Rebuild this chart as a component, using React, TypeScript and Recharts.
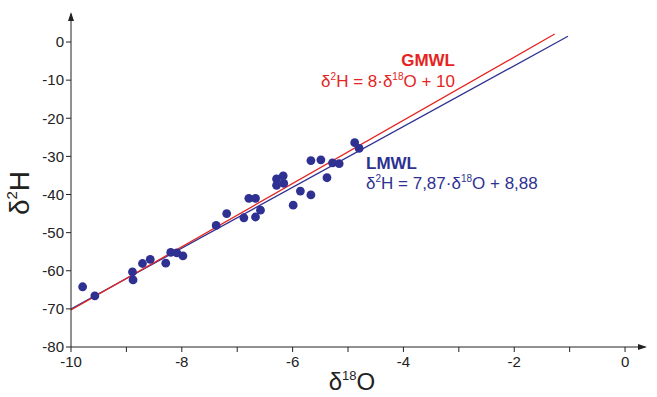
import React from "react"
import { ComposedChart, Line, ReferenceDot, Scatter, XAxis, YAxis } from "recharts"

// δ18O / δ2H sample pairs
const d18O = [
    -9.79, -9.57, -8.89, -8.88, -8.71, -8.57, -8.29, -8.2, -8.09, -7.98,
    -7.38, -7.19, -6.88, -6.79, -6.67, -6.67, -6.58, -6.29, -6.17, -6.29,
    -6.16, -5.99, -5.86, -5.67, -5.67, -5.49, -5.38, -5.28, -5.16, -4.88, -4.8,
]
const d2H = [
    -64.2, -66.6, -60.3, -62.4, -58.1, -57.0, -58.0, -55.2, -55.3, -56.1,
    -48.1, -45.0, -46.1, -41.0, -41.0, -45.9, -44.1, -35.9, -35.1, -37.6,
    -37.1, -42.8, -39.1, -40.1, -31.1, -30.9, -35.6, -31.7, -31.9, -26.4, -27.9,
]

// meteoric water lines (end points)
const gmwlX = [-10, -1.27]
const gmwlY = [-70.3, 2.1]
const lmwlX = [-10, -1.03]
const lmwlY = [-70.0, 1.5]

const xTicks = [-10, -9, -8, -7, -6, -5, -4, -3, -2, -1, 0]
const yTicks = [-80, -70, -60, -50, -40, -30, -20, -10, 0]

const samples = d18O.map((x, i) => ({ x, y: d2H[i] }))
const gmwl = gmwlX.map((x, i) => ({ x, y: gmwlY[i] }))
const lmwl = lmwlX.map((x, i) => ({ x, y: lmwlY[i] }))

const FONT = "'Liberation Sans', Arial, sans-serif"
const RED = "#e52421"
const NAVY = "#2e3192"
const AXIS = "#222222"

const X_MAX = 0.36
const Y_MAX = 7.35

const ArrowUp = ({ cx, cy }: any) => (
    <polygon points={`${cx},${cy - 2} ${cx - 3},${cy + 7} ${cx + 3},${cy + 7}`} fill={AXIS} />
)
const ArrowRight = ({ cx, cy }: any) => (
    <polygon points={`${cx + 2},${cy} ${cx - 7},${cy - 3} ${cx - 7},${cy + 3}`} fill={AXIS} />
)

const Dot = ({ cx, cy }: any) => <circle cx={cx} cy={cy} r={4.4} fill={NAVY} />

export default function App() {
    return (
        <div style={{ position: "absolute", left: 0, top: 0, width: 657, height: 397, background: "#fff", fontFamily: FONT }}>
            <ComposedChart
                width={657}
                height={397}
                margin={{ top: 14, right: 12, bottom: 20, left: 0 }}
            >
                <XAxis
                    type="number"
                    dataKey="x"
                    domain={[-10, X_MAX]}
                    ticks={xTicks}
                    allowDataOverflow
                    height={30}
                    tickSize={5}
                    tickMargin={4}
                    stroke={AXIS}
                    tick={{ fill: AXIS, fontSize: 15, fontFamily: FONT }}
                    tickFormatter={(v) => (v % 2 === 0 ? `${v}` : "")}
                />
                <YAxis
                    type="number"
                    dataKey="y"
                    domain={[-80, Y_MAX]}
                    ticks={yTicks}
                    allowDataOverflow
                    width={71}
                    tickSize={5}
                    tickMargin={2}
                    stroke={AXIS}
                    tick={{ fill: AXIS, fontSize: 15, fontFamily: FONT }}
                />
                <Line data={lmwl} dataKey="y" stroke={NAVY} strokeWidth={1.3} dot={false} activeDot={false} isAnimationActive={false} />
                <Line data={gmwl} dataKey="y" stroke={RED} strokeWidth={1.3} dot={false} activeDot={false} isAnimationActive={false} />
                <Scatter data={samples} fill={NAVY} shape={<Dot />} isAnimationActive={false} />
                <ReferenceDot x={-10} y={Y_MAX} ifOverflow="visible" shape={<ArrowUp />} />
                <ReferenceDot x={X_MAX} y={-80} ifOverflow="visible" shape={<ArrowRight />} />
            </ComposedChart>
            <svg width={657} height={397} style={{ position: "absolute", left: 0, top: 0, pointerEvents: "none" }}>
                <g fontFamily={FONT}>
                    <text x={455} y={66} textAnchor="end" fontSize={17} fontWeight="bold" fill={RED}>GMWL</text>
                    <text x={455} y={87} textAnchor="end" fontSize={17} fill={RED}>
                        δ<tspan fontSize={10} dy={-7}>2</tspan><tspan dy={7}>H = 8·δ</tspan>
                        <tspan fontSize={10} dy={-7}>18</tspan><tspan dy={7}>O + 10</tspan>
                    </text>
                    <text x={366} y={169} fontSize={17} fontWeight="bold" fill={NAVY}>LMWL</text>
                    <text x={366} y={189} fontSize={17} fill={NAVY}>
                        δ<tspan fontSize={10} dy={-7}>2</tspan><tspan dy={7}>H = 7,87·δ</tspan>
                        <tspan fontSize={10} dy={-7}>18</tspan><tspan dy={7}>O + 8,88</tspan>
                    </text>
                    <text x={352} y={390} textAnchor="middle" fontSize={24} fill={AXIS}>
                        δ<tspan fontSize={13} dy={-10}>18</tspan><tspan dy={10}>O</tspan>
                    </text>
                    <text x={29} y={193} textAnchor="middle" fontSize={28} fill={AXIS} transform="rotate(-90 29 193)">
                        δ<tspan fontSize={15} dy={-12}>2</tspan><tspan dy={12}>H</tspan>
                    </text>
                </g>
            </svg>
        </div>
    )
}
